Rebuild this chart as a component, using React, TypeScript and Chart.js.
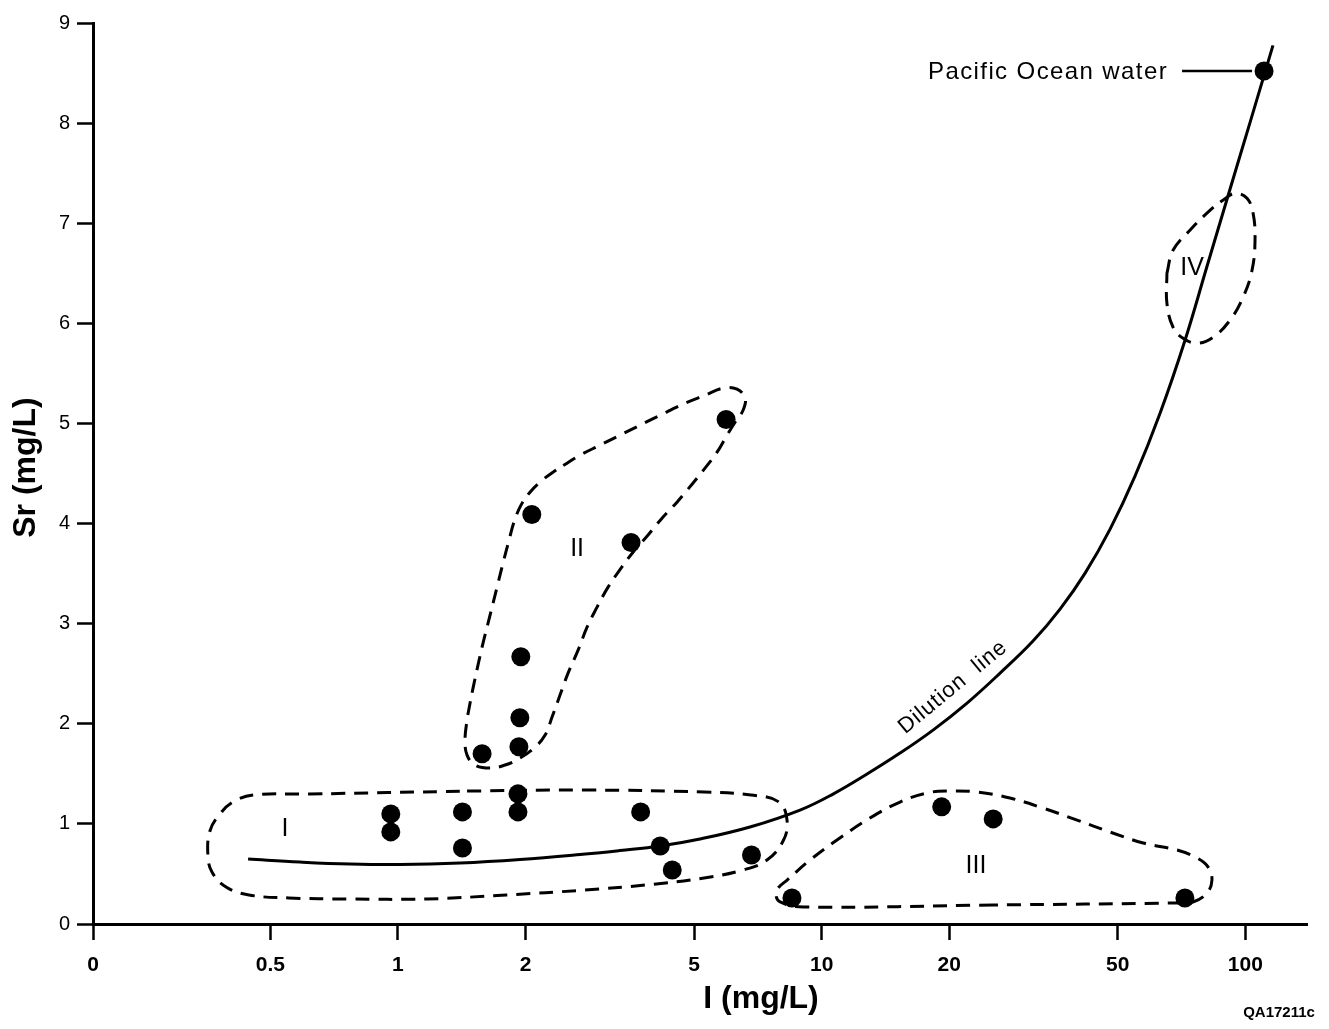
import { useEffect, useRef } from 'react';
import { Chart, registerables } from 'chart.js';

Chart.register(...registerables);

const FONT = "'Liberation Sans', Arial, Helvetica, sans-serif";

// Iodide axis: logarithmic, with its left end labelled "0"
const X_MIN = 0.1907;
const X_MAX = 139.8;
const X_TICKS = [0.5, 1, 2, 5, 10, 20, 50, 100];
const X_TICK_LABELS = ['0', '0.5', '1', '2', '5', '10', '20', '50', '100'];

// Strontium axis
const Y_MIN = 0;
const Y_MAX = 9;

// Samples as [I (mg/L), Sr (mg/L)]
const GROUP_I: [number, number][] = [
  [0.962, 1.1], [0.962, 0.92], [1.42, 1.12], [1.42, 0.76], [1.92, 1.3],
  [1.92, 1.12], [3.74, 1.12], [4.16, 0.78], [4.44, 0.54], [6.83, 0.69],
];
const GROUP_II: [number, number][] = [
  [1.58, 1.7], [1.93, 1.77], [1.94, 2.06], [1.95, 2.67], [2.07, 4.09],
  [3.55, 3.81], [5.95, 5.04],
];
const GROUP_III: [number, number][] = [
  [8.51, 0.26], [19.2, 1.17], [25.4, 1.05], [72.0, 0.26],
];
const PACIFIC: [number, number][] = [[110.7, 8.52]];

// Seawater dilution line
const DILUTION: [number, number][] = [
  [0.443, 0.649], [0.587, 0.619], [0.771, 0.599], [1.012, 0.594], [1.402, 0.609],
  [1.942, 0.644], [2.69, 0.694], [3.344, 0.734], [4.156, 0.779], [5.164, 0.849],
  [6.775, 0.969], [8.892, 1.138], [10.64, 1.298], [12.8, 1.498], [15.31, 1.707],
  [18.32, 1.937], [22.04, 2.207], [26.37, 2.506], [31.54, 2.826], [36.53, 3.145],
  [41.86, 3.505], [47.95, 3.944], [54.9, 4.473], [62.91, 5.102], [72.05, 5.831],
  [81.2, 6.57], [92.0, 7.339], [102.6, 8.008], [110.7, 8.476], [116.2, 8.777],
];

// Group outlines (closed dashed curves)
const OUTLINE_I: [number, number][] = [
  [1.456, 1.328], [2.764, 1.338], [5.28, 1.318], [6.81, 1.288], [7.93, 1.218],
  [8.29, 1.028], [8.11, 0.829], [7.43, 0.639], [6.52, 0.539], [5.28, 0.459],
  [3.83, 0.389], [2.76, 0.339], [1.8, 0.29], [1.171, 0.25], [0.762, 0.25],
  [0.553, 0.26], [0.445, 0.29], [0.393, 0.369], [0.364, 0.519], [0.356, 0.689],
  [0.36, 0.929], [0.38, 1.098], [0.408, 1.218], [0.455, 1.288], [0.617, 1.298],
  [1.456, 1.328],
];
const OUTLINE_II: [number, number][] = [
  [1.677, 3.205], [1.723, 3.405], [1.77, 3.604], [1.829, 3.834], [1.879, 4.014],
  [1.952, 4.184], [2.05, 4.313], [2.177, 4.423], [2.323, 4.513], [2.507, 4.603],
  [2.69, 4.683], [2.999, 4.783], [3.344, 4.883], [3.728, 4.983], [4.156, 5.082],
  [4.76, 5.202], [5.306, 5.282], [5.851, 5.352], [6.315, 5.342], [6.596, 5.252],
  [6.525, 5.132], [6.247, 5.012], [5.981, 4.883], [5.665, 4.713], [5.306, 4.553],
  [4.945, 4.393], [4.557, 4.214], [4.201, 4.054], [3.872, 3.874], [3.588, 3.714],
  [3.362, 3.555], [3.133, 3.365], [2.951, 3.165], [2.795, 2.966], [2.662, 2.736],
  [2.521, 2.506], [2.413, 2.287], [2.311, 2.067], [2.225, 1.887], [2.107, 1.767],
  [1.942, 1.658], [1.79, 1.588], [1.65, 1.558], [1.52, 1.588], [1.456, 1.687],
  [1.44, 1.837], [1.456, 2.037], [1.48, 2.207], [1.504, 2.356], [1.545, 2.586],
  [1.588, 2.806], [1.632, 3.005], [1.677, 3.205],
];
const OUTLINE_III: [number, number][] = [
  [25.4, 0.19], [9.04, 0.17], [7.98, 0.22], [7.8, 0.29], [7.89, 0.359],
  [8.29, 0.439], [9.39, 0.639], [10.87, 0.839], [13.0, 1.058], [15.31, 1.218],
  [17.72, 1.308], [19.76, 1.328], [23.26, 1.318], [27.83, 1.258], [33.3, 1.158],
  [40.07, 1.038], [47.9, 0.919], [57.4, 0.809], [69.0, 0.739], [76.9, 0.659],
  [81.7, 0.569], [83.4, 0.439], [81.2, 0.31], [75.2, 0.22], [69.0, 0.21],
  [25.4, 0.19],
];
const OUTLINE_IV: [number, number][] = [
  [65.3, 6.5], [67.5, 6.73], [74.0, 6.93], [82.5, 7.129], [88.5, 7.229],
  [94.6, 7.299], [100.9, 7.249], [104.3, 7.099], [105.4, 6.83], [103.7, 6.53],
  [98.8, 6.261], [92.0, 6.031], [83.9, 5.861], [76.9, 5.801], [71.3, 5.851],
  [67.5, 5.961], [65.3, 6.201], [65.3, 6.5],
];

// Group names, anchored in data units
const ZONE_LABELS: { text: string; at: [number, number] }[] = [
  { text: 'I', at: [0.5415, 0.949] },
  { text: 'II', at: [2.648, 3.744] },
  { text: 'III', at: [23.14, 0.579] },
  { text: 'IV', at: [74.85, 6.55] },
];
const DILUTION_LABEL = { text: 'Dilution  line', at: [20.42, 2.366] as [number, number], angle: -39.5 };
const PACIFIC_LABEL = 'Pacific Ocean water';
const X_TITLE = 'I (mg/L)';
const Y_TITLE = 'Sr (mg/L)';
const FIGURE_ID = 'QA17211c';

const toXY = (pts: [number, number][]) => pts.map(([x, y]) => ({ x, y }));

const outline = (pts: [number, number][]) => ({
  type: 'line' as const,
  data: toXY(pts),
  borderColor: '#000',
  borderWidth: 3,
  borderDash: [14, 9],
  pointRadius: 0,
  tension: 0.4,
  fill: false,
  order: 3,
});

const dots = (pts: [number, number][]) => ({
  type: 'scatter' as const,
  data: toXY(pts),
  backgroundColor: '#000',
  borderWidth: 0,
  pointRadius: 9.5,
  order: 1,
});

const textLayer = {
  id: 'textLayer',
  afterDatasetsDraw(chart: any) {
    const { ctx, chartArea } = chart;
    const xs = chart.scales.x;
    const ys = chart.scales.y;
    ctx.save();
    ctx.fillStyle = '#000';
    ctx.strokeStyle = '#000';

    ctx.font = `25px ${FONT}`;
    ctx.textAlign = 'center';
    ctx.textBaseline = 'middle';
    for (const z of ZONE_LABELS) {
      ctx.fillText(z.text, xs.getPixelForValue(z.at[0]), ys.getPixelForValue(z.at[1]));
    }

    // label along the dilution line
    ctx.save();
    ctx.translate(xs.getPixelForValue(DILUTION_LABEL.at[0]), ys.getPixelForValue(DILUTION_LABEL.at[1]));
    ctx.rotate((DILUTION_LABEL.angle * Math.PI) / 180);
    ctx.font = `22px ${FONT}`;
    (ctx as any).letterSpacing = '1px';
    ctx.fillText(DILUTION_LABEL.text, 0, 0);
    ctx.restore();

    // Pacific Ocean water label with leader
    const px = xs.getPixelForValue(PACIFIC[0][0]);
    const py = ys.getPixelForValue(PACIFIC[0][1]);
    ctx.lineWidth = 2.5;
    ctx.beginPath();
    ctx.moveTo(px - 82, py);
    ctx.lineTo(px - 12, py);
    ctx.stroke();
    ctx.save();
    ctx.font = `24px ${FONT}`;
    (ctx as any).letterSpacing = '1.4px';
    ctx.textAlign = 'right';
    ctx.fillText(PACIFIC_LABEL, px - 96, py + 1);
    ctx.restore();

    // axis titles
    ctx.font = `bold 32px ${FONT}`;
    ctx.textAlign = 'center';
    ctx.fillText(X_TITLE, chartArea.left + 668, chartArea.bottom + 75);
    ctx.save();
    ctx.translate(26, (chartArea.top + chartArea.bottom) / 2 - 6);
    ctx.rotate(-Math.PI / 2);
    ctx.fillText(Y_TITLE, 0, 0);
    ctx.restore();

    ctx.font = `bold 15px ${FONT}`;
    ctx.fillText(FIGURE_ID, chartArea.right - 28, chartArea.bottom + 89);
    ctx.restore();
  },
};

export default function App() {
  const canvasRef = useRef<HTMLCanvasElement | null>(null);

  useEffect(() => {
    const canvas = canvasRef.current;
    if (!canvas) return;
    const chart = new Chart(canvas, {
      type: 'scatter',
      data: {
        datasets: [
          dots(GROUP_I),
          dots(GROUP_II),
          dots(GROUP_III),
          dots(PACIFIC),
          {
            type: 'line',
            data: toXY(DILUTION),
            borderColor: '#000',
            borderWidth: 3,
            pointRadius: 0,
            tension: 0.4,
            fill: false,
            order: 2,
          } as any,
          outline(OUTLINE_I),
          outline(OUTLINE_II),
          outline(OUTLINE_III),
          outline(OUTLINE_IV),
        ],
      },
      options: {
        animation: false,
        responsive: false,
        devicePixelRatio: 1,
        layout: { padding: { top: 23, right: 22, left: 0, bottom: 0 } },
        plugins: { legend: { display: false }, tooltip: { enabled: false } },
        scales: {
          x: {
            type: 'logarithmic',
            min: X_MIN,
            max: X_MAX,
            afterBuildTicks: (scale: any) => {
              scale.ticks = [X_MIN, ...X_TICKS].map((v) => ({ value: v }));
            },
            afterFit: (scale: any) => {
              scale.height = 105;
            },
            grid: {
              drawOnChartArea: false,
              drawTicks: true,
              tickLength: 16,
              tickWidth: 2.5,
              tickColor: '#000',
            },
            border: { display: true, color: '#000', width: 3 },
            ticks: {
              autoSkip: false,
              maxRotation: 0,
              color: '#000',
              padding: 13,
              font: { family: FONT, size: 21, weight: 'bold' },
              callback: (_v: any, i: number) => X_TICK_LABELS[i],
            },
          },
          y: {
            type: 'linear',
            min: Y_MIN,
            max: Y_MAX,
            afterFit: (scale: any) => {
              scale.width = 93;
            },
            grid: {
              drawOnChartArea: false,
              drawTicks: true,
              tickLength: 16,
              tickWidth: 2.5,
              tickColor: '#000',
            },
            border: { display: true, color: '#000', width: 3 },
            ticks: {
              stepSize: 1,
              color: '#000',
              padding: 7,
              font: { family: FONT, size: 20 },
            },
          },
        },
      },
      plugins: [textLayer],
    });
    return () => chart.destroy();
  }, []);

  return (
    <div style={{ position: 'fixed', left: 0, top: 0, width: 1329, height: 1029, background: '#fff' }}>
      <canvas ref={canvasRef} width={1329} height={1029} />
    </div>
  );
}
